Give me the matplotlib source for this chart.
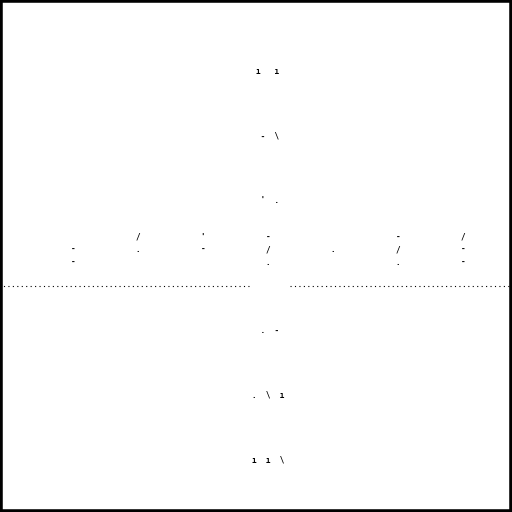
import matplotlib
matplotlib.use("Agg")
import matplotlib.pyplot as plt

# grid positions of the label fragments (one step = one cell)
col_steps = [3, 2, 1, -1, -2, -3]
col_labels = ["ı   ı", " -  \\", " '  .", " .  -", ".  \\  ı", "ı  ı  \\"]
row_steps = [-3, -2, -1, 0, 1, 2, 3]
row_labels = ["\n-\n-", "/\n.\n", "'\n-\n", "-\n/\n.", "\n.\n", "-\n/\n.", "/\n-\n-"]
row_level = 0.25

# dotted rule, split in two pieces around the centre
rule_level = -0.32
rule_left = [-4.2, -0.28]
rule_right = [0.34, 3.8]

fig = plt.figure(figsize=(5.12, 5.12), dpi=100)
ax = fig.add_axes([0, 0, 1, 1])
ax.set_xlim(-4.12, 3.75)
ax.set_ylim(-3.8, 4.1)
ax.set_xticks([])
ax.set_yticks([])
for s in ax.spines.values():
    s.set_linewidth(4)
    s.set_color("black")

for y, lab in zip(col_steps, col_labels):
    ax.text(0, y, lab, ha="center", va="center", fontsize=5.5, fontweight="bold",
            family="DejaVu Sans Mono", color="black")
for x, lab in zip(row_steps, row_labels):
    ax.text(x, row_level, lab, ha="center", va="center", fontsize=5.5, fontweight="bold",
            family="DejaVu Sans Mono", color="black", linespacing=1.5)

ax.plot(rule_left, [rule_level, rule_level], color="black", linestyle=(0, (1, 3)), linewidth=0.8)
ax.plot(rule_right, [rule_level, rule_level], color="black", linestyle=(0, (1, 3)), linewidth=0.8)

fig.savefig("out.png", dpi=100)
